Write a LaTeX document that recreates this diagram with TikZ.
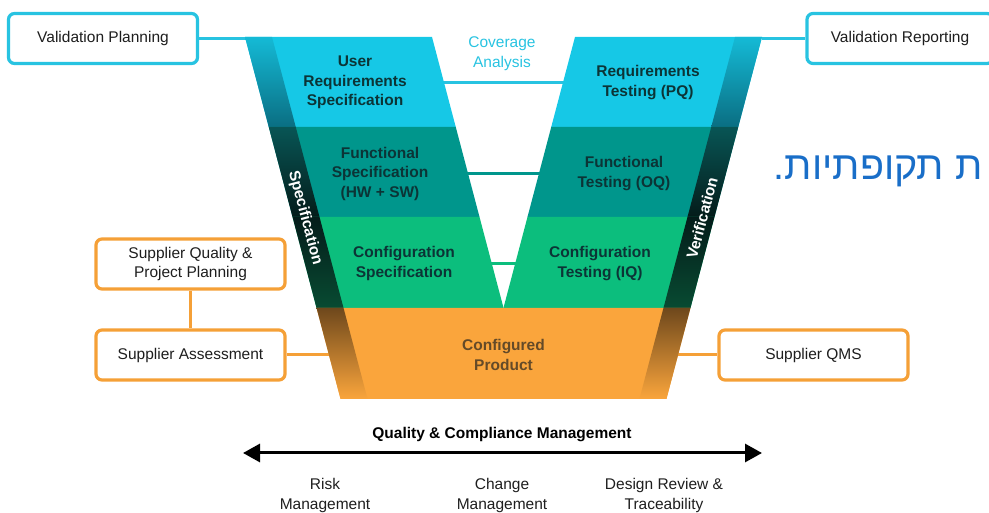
\documentclass[tikz,border=0pt]{standalone}
\usepackage{fontspec}
\setmainfont{Liberation Sans}
\newfontfamily\hebfont[Script=Hebrew]{Liberation Sans}
\TeXXeTstate=1
\usetikzlibrary{arrows.meta}
\pgfdeclarelayer{background}
\pgfsetlayers{background,main}

\definecolor{vcyan}{RGB}{22,200,230}
\definecolor{vteal}{RGB}{0,150,140}
\definecolor{vgreen}{RGB}{12,190,125}
\definecolor{vorange}{RGB}{250,165,60}
\definecolor{vdark}{RGB}{12,52,54}
\definecolor{vbrown}{RGB}{100,74,40}
\definecolor{vline}{RGB}{40,195,225}
\definecolor{vbox}{RGB}{245,160,55}
\definecolor{vgray}{RGB}{30,30,30}
\definecolor{vblue}{RGB}{25,110,200}
\definecolor{stripA}{RGB}{10,110,130}
\definecolor{stripB}{RGB}{8,85,85}
\definecolor{stripC}{RGB}{4,28,26}
\definecolor{stripD}{RGB}{8,75,50}
\definecolor{stripE}{RGB}{110,72,28}

\newcommand{\vfont}{\fontsize{15.5pt}{19.5pt}\selectfont}
\newcommand{\xlo}[1]{(245+0.264*(475-#1))}

\tikzset{
    >=Triangle,
    bandtext/.style={align=center, font=\vfont\bfseries, text=vdark},
    striptext/.style={font=\vfont\bfseries, text=white},
    box/.style={
        rectangle,
        rounded corners=6pt,
        line width=3.2pt,
        fill=white,
        minimum width=189pt,
        minimum height=50pt,
        align=center,
        text=vgray,
        font=\vfont
    },
    planbox/.style={box, draw=vline},
    supbox/.style={box, draw=vbox},
    link/.style={line width=3pt},
}

\begin{document}
\begin{tikzpicture}[x=1pt, y=1pt]
\useasboundingbox (0,0) rectangle (989,512);

% labels in the V
\node [bandtext] (urs) at (355,429.5) {User\\Requirements\\Specification};
\node [bandtext] (fs) at (380,338.5) {Functional\\Specification\\(HW + SW)};
\node [bandtext] (cs) at (404,248.5) {Configuration\\Specification};
\node [bandtext] (rt) at (648,429.5) {Requirements\\Testing (PQ)};
\node [bandtext] (ft) at (624,338.5) {Functional\\Testing (OQ)};
\node [bandtext] (ct) at (600,248.5) {Configuration\\Testing (IQ)};
\node [bandtext, text=vbrown] (cp) at (503.5,157) {Configured\\Product};

\node [striptext, rotate=-75.2] (spec) at (305,294) {Specification};
\node [striptext, rotate=75.2] (verif) at (702,294) {Verification};
\node [font=\vfont, text=vline, align=center] (cov) at (502,458.5) {Coverage\\Analysis};

% boxes
\node [planbox] (vp) at (103,473.5) {Validation Planning};
\node [planbox, minimum width=186pt] (vr) at (900,473.5) {Validation Reporting};
\node [supbox] (sq) at (190.5,248) {Supplier Quality \&\\Project Planning};
\node [supbox] (sa) at (190.5,157) {Supplier Assessment};
\node [supbox] (qms) at (813.5,157) {Supplier QMS};

\coordinate (vtl) at (245,473.5);
\coordinate (vtr) at (762,473.5);

\begin{pgfonlayer}{background}
\draw [link, vline] (vp.east) -- (vtl);
\draw [link, vline] (vtr) -- (vr.west);
\draw [link, vline] (urs) -- (rt);
\draw [link, vteal] (fs) -- (ft);
\draw [link, vgreen] (cs) -- (ct);
\draw [link, vbox] (sq) -- (sa);
\draw [link, vbox] (sa) -- (cp);
\draw [link, vbox] (cp) -- (qms);

% the two arms, band by band
\foreach \yt/\yb/\fc/\ta/\tb in {475/385/vcyan/vcyan!93!black/stripA, 385/295/vteal/stripB/stripC, 295/204/vgreen/stripC/stripD} {
  \fill [\fc] ({\xlo{\yt}},\yt) -- ({\xlo{\yt}+187},\yt) -- ({\xlo{\yb}+187},\yb) -- ({\xlo{\yb}},\yb) -- cycle;
  \fill [\fc] ({1007-\xlo{\yt}},\yt) -- ({820-\xlo{\yt}},\yt) -- ({820-\xlo{\yb}},\yb) -- ({1007-\xlo{\yb}},\yb) -- cycle;
  \shade [top color=\ta, bottom color=\tb] ({\xlo{\yt}},\yt) -- ({\xlo{\yt}+27},\yt) -- ({\xlo{\yb}+27},\yb) -- ({\xlo{\yb}},\yb) -- cycle;
  \shade [top color=\ta, bottom color=\tb] ({1007-\xlo{\yt}},\yt) -- ({980-\xlo{\yt}},\yt) -- ({980-\xlo{\yb}},\yb) -- ({1007-\xlo{\yb}},\yb) -- cycle;
}

% the foot
\fill [vorange] ({\xlo{204}},204) -- ({1007-\xlo{204}},204) -- ({1007-\xlo{113}},113) -- ({\xlo{113}},113) -- cycle;
\shade [top color=stripE, bottom color=vorange] ({\xlo{204}},204) -- ({\xlo{204}+27},204) -- ({\xlo{113}+27},113) -- ({\xlo{113}},113) -- cycle;
\shade [top color=stripE, bottom color=vorange] ({1007-\xlo{204}},204) -- ({980-\xlo{204}},204) -- ({980-\xlo{113}},113) -- ({1007-\xlo{113}},113) -- cycle;
\end{pgfonlayer}

% quality and compliance
\node [font=\vfont\bfseries] (qcm) at (502,77) {Quality \& Compliance Management};
\coordinate (ql) at (243,59);
\coordinate (qr) at (762,59);
\draw [line width=3pt, {Triangle[length=17pt,width=18pt]}-{Triangle[length=17pt,width=18pt]}] (ql) -- (qr);

\foreach \x/\l [count=\i] in {325/Risk\\Management, 502/Change\\Management, 664/Design Review \&\\Traceability}
  \node [font=\vfont, text=vgray, align=center] (topic-\i) at (\x,16.5) {\l};

\node [anchor=base east, text=vblue, font=\hebfont\fontsize{39.5pt}{44pt}\selectfont] (heb) at (986,332) {\beginR ת תקופתיות.\endR};

\end{tikzpicture}
\end{document}
